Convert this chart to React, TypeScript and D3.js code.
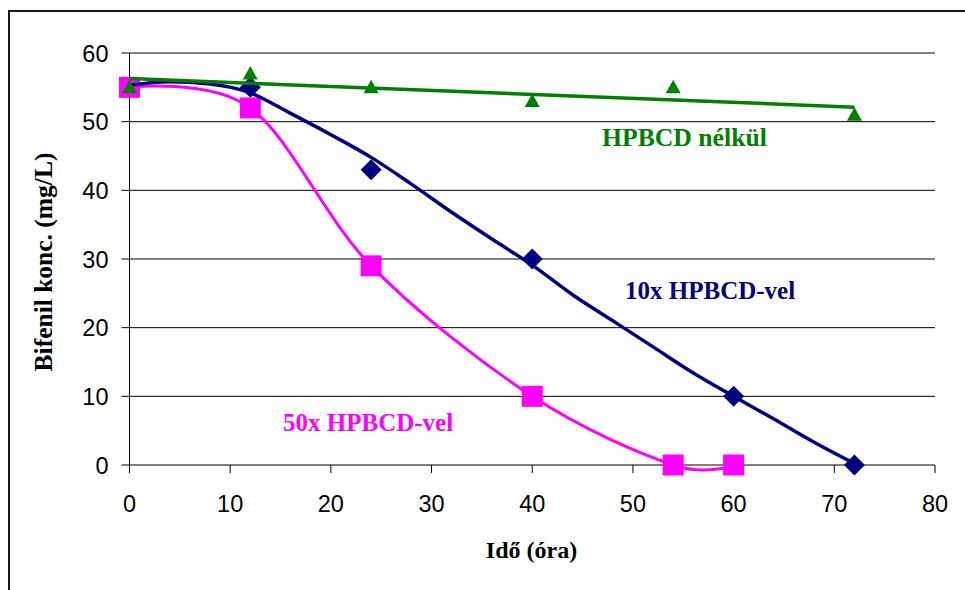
import React from "react";
import * as d3 from "d3";

// Sampling times (hours) and measured biphenyl concentrations (mg/L)
const timesNone = [0, 12, 24, 40, 54, 72];
const concNone = [55, 57, 55, 53, 55, 51];

const times10x = [0, 12, 24, 40, 60, 72];
const conc10x = [55, 55, 43, 30, 10, 0];

const times50x = [0, 12, 24, 40, 54, 60];
const conc50x = [55, 52, 29, 10, 0, 0];

// Polynomial trend curve of the 10x series, sampled along the time axis
const trend10xTimes = [0, 4, 8, 12, 16, 20, 24, 28, 32, 36, 40, 44, 48, 52, 56, 60, 64, 68, 72];
const trend10xConc = [55.3, 55.8, 55.5, 54.2, 51.2, 48.1, 44.8, 40.9, 36.8, 32.9, 29.1, 24.8, 21.0, 17.2, 13.4, 10.0, 6.7, 3.3, 0.2];

const xTicks = [0, 10, 20, 30, 40, 50, 60, 70, 80];
const yTicks = [0, 10, 20, 30, 40, 50, 60];

const labelNone = "HPBCD nélkül";
const label10x = "10x HPBCD-vel";
const label50x = "50x HPBCD-vel";
const xTitle = "Idő (óra)";
const yTitle = "Bifenil konc. (mg/L)";

const W = 965;
const H = 590;
const NAVY = "#000080";
const MAGENTA = "#FF00FF";
const GREEN = "#008000";

export default function App() {
  const x = d3.scaleLinear().domain([0, 80]).range([129.5, 935]);
  const y = d3.scaleLinear().domain([0, 60]).range([465, 53]);

  // Least-squares linear trend for the untreated series
  const mx = d3.mean(timesNone)!;
  const my = d3.mean(concNone)!;
  const sxy = d3.sum(timesNone, (t, i) => (t - mx) * (concNone[i] - my));
  const sxx = d3.sum(timesNone, (t) => (t - mx) ** 2);
  const slope = sxy / sxx;
  const intercept = my - slope * mx;
  const trendNone: [number, number][] = [0, 72].map((t) => [t, intercept + slope * t]);

  const lineLinear = d3
    .line<[number, number]>()
    .x((d) => x(d[0]))
    .y((d) => y(d[1]));
  const lineSmooth = d3
    .line<[number, number]>()
    .x((d) => x(d[0]))
    .y((d) => y(d[1]))
    .curve(d3.curveCardinal.tension(0));
  const lineTrend = d3
    .line<[number, number]>()
    .x((d) => x(d[0]))
    .y((d) => y(d[1]))
    .curve(d3.curveMonotoneX);

  const pts50x: [number, number][] = times50x.map((t, i) => [t, conc50x[i]]);
  const ptsTrend10x: [number, number][] = trend10xTimes.map((t, i) => [t, trend10xConc[i]]);

  const diamond = (cx: number, cy: number, r: number) =>
    `M${cx},${cy - r}L${cx + r},${cy}L${cx},${cy + r}L${cx - r},${cy}Z`;
  const triangle = (cx: number, cy: number) =>
    `M${cx},${cy - 7.5}L${cx + 7.5},${cy + 6}L${cx - 7.5},${cy + 6}Z`;

  const tickFont = "'Liberation Sans', Arial, sans-serif";
  const serif = "'Liberation Serif', 'Times New Roman', serif";

  return (
    <svg
      width={W}
      height={H}
      style={{ position: "absolute", left: 0, top: 0, background: "#fff" }}
    >
      <rect x={0} y={0} width={W} height={H} fill="#fff" />
      {/* chart frame */}
      <rect x={9} y={11} width={W + 20} height={H + 20} fill="none" stroke="#1a1a1a" strokeWidth={2} />

      {/* horizontal gridlines */}
      {yTicks.filter((v) => v > 0).map((v) => (
        <line key={`g${v}`} x1={x(0)} x2={x(80)} y1={y(v)} y2={y(v)} stroke="#000" strokeWidth={1} />
      ))}

      {/* y axis */}
      <line x1={x(0)} x2={x(0)} y1={y(60)} y2={y(0)} stroke="#000" strokeWidth={1} />
      {yTicks.map((v) => (
        <g key={`yt${v}`}>
          <line x1={x(0) - 8} x2={x(0)} y1={y(v)} y2={y(v)} stroke="#000" strokeWidth={1} />
          <text
            x={108.5}
            y={y(v) + 8.5}
            textAnchor="end"
            fontFamily={tickFont}
            fontSize={23.5}
            fill="#000"
          >
            {v}
          </text>
        </g>
      ))}

      {/* x axis */}
      <line x1={x(0)} x2={x(80)} y1={y(0)} y2={y(0)} stroke="#000" strokeWidth={1} />
      {xTicks.map((v) => (
        <g key={`xt${v}`}>
          <line x1={x(v)} x2={x(v)} y1={y(0)} y2={y(0) + 8} stroke="#000" strokeWidth={1} />
          <text
            x={x(v)}
            y={511.5}
            textAnchor="middle"
            fontFamily={tickFont}
            fontSize={23.5}
            fill="#000"
          >
            {v}
          </text>
        </g>
      ))}

      {/* 10x series markers */}
      {times10x.map((t, i) => (
        <path key={`d${t}`} d={diamond(x(t), y(conc10x[i]), 10.5)} fill={NAVY} />
      ))}

      {/* 50x series: smoothed line and square markers */}
      <path d={lineSmooth(pts50x)!} fill="none" stroke={MAGENTA} strokeWidth={3} strokeLinejoin="round" />
      {times50x.map((t, i) => (
        <rect key={`s${t}`} x={x(t) - 10.5} y={y(conc50x[i]) - 10.5} width={21} height={21} fill={MAGENTA} />
      ))}

      {/* 10x trend curve */}
      <path d={lineTrend(ptsTrend10x)!} fill="none" stroke={NAVY} strokeWidth={3.5} strokeLinejoin="round" />

      {/* untreated series markers and linear trend */}
      {timesNone.map((t, i) => (
        <path key={`t${t}`} d={triangle(x(t), y(concNone[i]))} fill={GREEN} />
      ))}
      <path d={lineLinear(trendNone)!} fill="none" stroke={GREEN} strokeWidth={3.5} />

      {/* series annotations */}
      <text x={602} y={146} fontFamily={serif} fontWeight="bold" fontSize={25.7} fill={GREEN}>
        {labelNone}
      </text>
      <text x={625} y={299} fontFamily={serif} fontWeight="bold" fontSize={25} fill={NAVY}>
        {label10x}
      </text>
      <text x={283} y={431} fontFamily={serif} fontWeight="bold" fontSize={25} fill={MAGENTA}>
        {label50x}
      </text>

      {/* axis titles */}
      <text
        x={531.5}
        y={558}
        textAnchor="middle"
        fontFamily={serif}
        fontWeight="bold"
        fontSize={24}
        fill="#000"
      >
        {xTitle}
      </text>
      <text
        transform={`translate(52,262) rotate(-90)`}
        textAnchor="middle"
        fontFamily={serif}
        fontWeight="bold"
        fontSize={25.5}
        fill="#000"
      >
        {yTitle}
      </text>
    </svg>
  );
}
